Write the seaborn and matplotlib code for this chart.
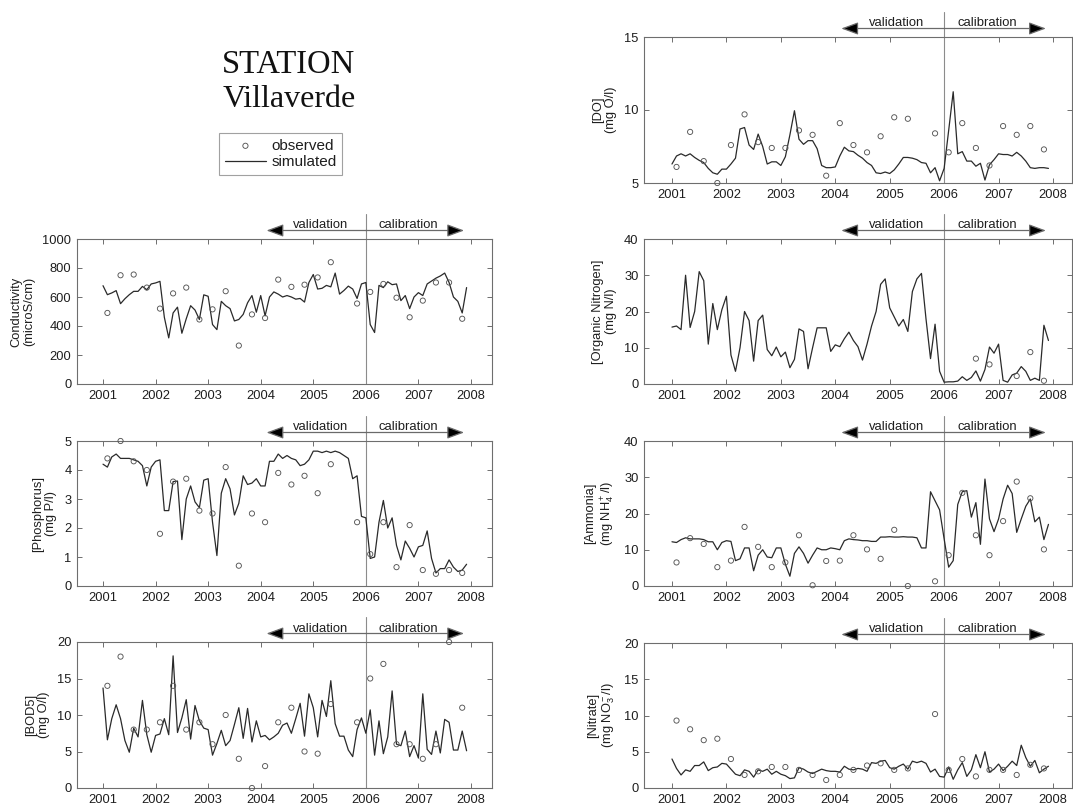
import numpy as np
import pandas as pd
import matplotlib
matplotlib.use("Agg")
import matplotlib.pyplot as plt
from matplotlib import transforms
import seaborn as sns

# ---------------- time bases ----------------
sim_dates = pd.date_range("2001-01-01", periods=84, freq="MS")   # monthly simulation
obs_dates = pd.date_range("2001-02-01", periods=28, freq="3MS")  # quarterly sampling
sim_t = np.asarray(sim_dates.year + (sim_dates.month - 1) / 12.0, dtype=float)
obs_t = np.asarray(obs_dates.year + (obs_dates.month - 1) / 12.0, dtype=float)

year_ticks = [2001, 2002, 2003, 2004, 2005, 2006, 2007, 2008]
split_year = 2006.0
valid_start = 2004.11
calib_end = 2007.87
nan = np.nan

# ---------------- data ----------------
cond_sim = [678, 616, 628, 644, 554, 588, 616, 639, 639, 673, 650, 690,
            697, 708, 460, 318, 490, 530, 350, 450, 540, 510, 445, 615,
            605, 410, 375, 570, 540, 520, 435, 445, 480, 560, 610, 495,
            610, 470, 600, 635, 620, 600, 610, 600, 585, 590, 565, 700,
            755, 655, 660, 680, 670, 765, 620, 645, 675, 655, 590, 690,
            700, 410, 355, 680, 665, 705, 685, 690, 575, 610, 520, 600,
            630, 610, 690, 710, 730, 745, 765, 700, 600, 570, 490, 665]
cond_obs = [490, 750, 755, 665, 520, 625, 665, 445, 515, 640, 265, 480,
            455, 720, 670, 685, 735, 840, nan, 555, 635, 690, 595, 460,
            575, 700, 700, 450]

phos_sim = [4.20, 4.10, 4.45, 4.55, 4.40, 4.40, 4.40, 4.35, 4.30, 4.15, 3.45, 4.10,
            4.30, 4.35, 2.60, 2.60, 3.60, 3.62, 1.60, 3.00, 3.45, 2.90, 2.70, 3.65,
            3.70, 2.20, 1.05, 3.20, 3.70, 3.35, 2.45, 2.85, 3.80, 3.50, 3.55, 3.70,
            3.45, 3.45, 4.30, 4.30, 4.55, 4.40, 4.50, 4.40, 4.35, 4.15, 4.20, 4.35,
            4.65, 4.65, 4.60, 4.65, 4.60, 4.65, 4.60, 4.50, 4.40, 3.70, 3.80, 2.40,
            2.35, 0.95, 1.00, 2.20, 2.95, 2.00, 2.35, 1.40, 0.90, 1.55, 1.30, 1.00,
            1.35, 1.40, 1.90, 0.95, 0.45, 0.60, 0.60, 0.90, 0.65, 0.50, 0.55, 0.75]
phos_obs = [4.4, 5.0, 4.3, 4.0, 1.8, 3.6, 3.7, 2.6, 2.5, 4.1, 0.7, 2.5,
            2.2, 3.9, 3.5, 3.8, 3.2, 4.2, nan, 2.2, 1.1, 2.2, 0.65, 2.1,
            0.55, 0.42, 0.55, 0.45]

bod_sim = [13.7, 6.6, 9.5, 11.4, 9.5, 6.5, 4.9, 8.2, 7.0, 12.0, 7.3, 4.9,
           7.2, 7.4, 9.5, 7.3, 18.1, 7.6, 9.6, 12.1, 6.7, 11.3, 9.2, 8.2,
           8.0, 4.5, 6.1, 7.9, 5.8, 6.5, 8.7, 11.0, 6.8, 10.9, 6.3, 9.2,
           7.0, 7.2, 6.6, 7.0, 7.5, 8.6, 8.9, 7.5, 9.5, 11.6, 7.1, 12.9,
           11.0, 7.0, 12.0, 9.8, 14.7, 8.8, 7.1, 7.1, 5.2, 4.3, 8.0, 9.6,
           7.5, 10.7, 4.5, 9.2, 4.7, 7.0, 13.3, 6.0, 5.8, 7.8, 4.3, 5.8,
           4.1, 12.9, 5.3, 4.6, 7.8, 4.8, 9.4, 9.0, 5.2, 5.2, 7.8, 5.1]
bod_obs = [14, 18, 8, 8, 9, 14, 8, 9, 6, 10, 4, 0,
           3, 9, 11, 5, 4.7, 11.5, nan, 9, 15, 17, 6, 6,
           4, 6, 20, 11]

do_sim = [6.30, 6.85, 7.00, 6.85, 7.00, 6.75, 6.55, 6.40, 6.00, 5.70, 5.60, 5.95,
          5.95, 6.30, 6.70, 8.70, 8.80, 7.60, 7.30, 8.35, 7.50, 6.30, 6.45, 6.45,
          6.20, 6.80, 8.30, 9.95, 8.00, 7.65, 7.90, 7.90, 7.35, 6.20, 6.05, 6.05,
          6.10, 6.85, 7.45, 7.20, 7.15, 6.90, 6.70, 6.40, 6.20, 5.70, 5.65, 5.75,
          5.65, 5.90, 6.30, 6.75, 6.75, 6.70, 6.60, 6.40, 6.35, 5.70, 6.05, 5.15,
          6.00, 8.60, 11.25, 7.00, 7.15, 6.50, 6.50, 6.15, 6.35, 5.20, 6.25, 6.60,
          7.00, 6.95, 6.95, 6.85, 7.10, 6.85, 6.50, 6.05, 6.00, 6.05, 6.05, 6.00]
do_obs = [6.1, 8.5, 6.5, 5.0, 7.6, 9.7, 7.8, 7.4, 7.4, 8.6, 8.3, 5.5,
          9.1, 7.6, 7.1, 8.2, 9.5, 9.4, nan, 8.4, 7.1, 9.1, 7.4, 6.2,
          8.9, 8.3, 8.9, 7.3]

orgn_sim = [15.7, 16.0, 15.0, 30.0, 15.6, 20.0, 31.0, 28.5, 11.0, 22.2, 15.0, 20.5,
            24.2, 8.0, 3.5, 10.0, 20.0, 17.5, 6.3, 17.5, 19.0, 9.5, 7.8, 10.2,
            7.5, 8.8, 4.5, 6.8, 15.2, 14.5, 4.2, 10.0, 15.5, 15.5, 15.5, 9.0,
            10.8, 10.3, 12.5, 14.3, 12.0, 10.3, 6.6, 11.0, 16.0, 20.0, 27.5, 29.0,
            21.0, 18.5, 16.0, 17.8, 14.5, 25.5, 29.0, 30.5, 18.0, 7.0, 16.5, 3.5,
            0.5, 0.6, 0.6, 0.8, 2.0, 1.0, 1.8, 3.6, 0.8, 4.0, 10.2, 8.5,
            11.0, 1.0, 0.5, 2.5, 3.0, 4.8, 3.5, 1.0, 1.6, 1.0, 16.2, 12.0]
orgn_obs = [nan, nan, nan, nan, nan, nan, nan, nan, nan, nan, nan, nan,
            nan, nan, nan, nan, nan, nan, nan, nan, nan, nan, 7.0, 5.4,
            nan, 2.2, 8.8, 0.9]

amm_sim = [12.2, 12.0, 12.8, 13.3, 13.0, 13.0, 13.0, 12.8, 12.2, 12.2, 10.0, 12.0,
           12.5, 12.3, 7.0, 7.5, 10.5, 10.5, 4.2, 8.5, 10.0, 8.0, 7.8, 10.5,
           10.5, 6.0, 2.7, 9.0, 10.8, 9.0, 6.3, 8.5, 10.5, 10.0, 10.0, 10.5,
           10.3, 10.0, 12.5, 13.0, 12.8, 12.7, 12.5, 12.5, 12.3, 12.3, 13.5, 13.5,
           13.6, 13.5, 13.5, 13.6, 13.5, 13.5, 13.3, 10.5, 10.5, 26.0, 23.5, 21.0,
           13.0, 5.2, 7.0, 22.5, 26.0, 26.3, 19.0, 23.0, 11.5, 29.5, 18.5, 15.0,
           18.5, 24.0, 27.8, 25.5, 14.8, 18.5, 22.0, 24.0, 17.7, 19.0, 12.8, 17.0]
amm_obs = [6.5, 13.2, 11.6, 5.2, 7.0, 16.3, 10.8, 5.2, 6.5, 14.0, 0.2, 6.9,
           7.0, 14.0, 10.1, 7.5, 15.5, 0.0, nan, 1.3, 8.5, 25.7, 14.0, 8.5,
           17.9, 28.8, 24.2, 10.1]

nit_sim = [4.0, 2.7, 1.8, 2.5, 2.3, 3.1, 3.1, 3.6, 2.4, 2.8, 2.9, 3.4,
           3.3, 2.6, 1.9, 1.7, 2.5, 2.3, 1.5, 2.5, 2.3, 2.6, 1.9, 2.3,
           1.9, 1.7, 1.3, 1.4, 2.8, 2.6, 2.2, 2.0, 2.3, 2.6, 2.4, 2.3,
           2.3, 2.2, 3.0, 2.6, 2.5, 2.7, 2.6, 2.3, 3.5, 3.4, 3.7, 3.8,
           2.8, 2.6, 3.0, 3.3, 2.6, 3.7, 3.5, 3.7, 3.4, 2.2, 2.6, 1.6,
           1.5, 2.9, 1.2, 2.5, 3.5, 1.6, 2.5, 4.6, 2.8, 5.0, 2.2, 2.6,
           3.3, 2.4, 3.0, 3.7, 3.1, 5.9, 4.2, 3.0, 3.8, 2.1, 2.6, 3.0]
nit_obs = [9.3, 8.1, 6.6, 6.8, 4.0, 1.8, 2.3, 2.9, 2.9, 2.5, 1.8, 1.1,
           1.8, 2.5, 3.1, 3.4, 2.5, 2.7, nan, 10.2, 2.5, 4.0, 1.6, 2.5,
           2.5, 1.8, 3.2, 2.7]

# ---------------- style ----------------
sns.set_style("ticks")
plt.rcParams["font.family"] = ["Liberation Sans", "DejaVu Sans"]
plt.rcParams["mathtext.fontset"] = "custom"
plt.rcParams["mathtext.rm"] = "Liberation Sans"
plt.rcParams["mathtext.it"] = "Liberation Sans:italic"
plt.rcParams["mathtext.bf"] = "Liberation Sans:bold"

W, H = 1073, 809
fig = plt.figure(figsize=(W / 100, H / 100), dpi=100)
fig.patch.set_facecolor("white")

def px_axes(left, top, right, bottom):
    return fig.add_axes([left / W, 1 - bottom / H, (right - left) / W, (bottom - top) / H])

LINE_C = "#2a2a2a"
MARK_C = "#555555"
SPINE_C = "#6e6e6e"
TEXT_C = "#1e1e1e"

panels = [
    # (rect px, xlim, sim, obs, ylim, yticks, ylabel)
    ((77, 239, 492, 384), (2000.505, 2008.40), cond_sim, cond_obs, (0, 1000),
     [0, 200, 400, 600, 800, 1000], "Conductivity\n(microS/cm)"),
    ((77, 441, 492, 586), (2000.505, 2008.40), phos_sim, phos_obs, (0, 5),
     [0, 1, 2, 3, 4, 5], "[Phosphorus]\n(mg P/l)"),
    ((77, 642, 492, 788), (2000.505, 2008.40), bod_sim, bod_obs, (0, 20),
     [0, 5, 10, 15, 20], "[BOD5]\n(mg O/l)"),
    ((644, 37, 1071.5, 183), (2000.486, 2008.34), do_sim, do_obs, (5, 15),
     [5, 10, 15], "[DO]\n(mg O/l)"),
    ((644, 239, 1071.5, 384), (2000.486, 2008.34), orgn_sim, orgn_obs, (0, 40),
     [0, 10, 20, 30, 40], "[Organic Nitrogen]\n(mg N/l)"),
    ((644, 441, 1071.5, 586), (2000.486, 2008.34), amm_sim, amm_obs, (0, 40),
     [0, 10, 20, 30, 40], "[Ammonia]\n(mg NH$_4^+$/l)"),
    ((644, 643, 1071.5, 788), (2000.486, 2008.34), nit_sim, nit_obs, (0, 20),
     [0, 5, 10, 15, 20], "[Nitrate]\n(mg NO$_3^-$/l)"),
]


def mark_periods(ax):
    trans = transforms.blended_transform_factory(ax.transData, ax.transAxes)
    h_px = ax.get_position().height * H

    def up(px):
        return 1 + px / h_px

    ax.plot([split_year, split_year], [0, up(25)], transform=trans, color="#8c8c8c",
            lw=0.8, clip_on=False, zorder=1)
    akw = dict(arrowstyle="-|>,head_length=0.65,head_width=0.24", mutation_scale=16,
               facecolor="black", edgecolor="#6a6a6a", lw=0.9, shrinkA=0, shrinkB=0)
    for tip in (valid_start, calib_end):
        ax.annotate("", xy=(tip, up(8.5)), xytext=(split_year, up(8.5)),
                    xycoords=trans, textcoords=trans, arrowprops=akw,
                    annotation_clip=False)
    ax.text(2005.13, up(10.5), "validation", transform=trans, ha="center",
            va="baseline", fontsize=9.4, color=TEXT_C)
    ax.text(2006.80, up(10.5), "calibration", transform=trans, ha="center",
            va="baseline", fontsize=9.4, color=TEXT_C)


axes = []
for rect, xlim, sim, obs, ylim, yticks, ylabel in panels:
    ax = px_axes(*rect)
    sns.lineplot(x=sim_t, y=np.asarray(sim, dtype=float), ax=ax, color=LINE_C,
                 linewidth=0.9, estimator=None, sort=False, zorder=2)
    sns.scatterplot(x=obs_t, y=np.asarray(obs, dtype=float), ax=ax, marker="o", s=14,
                    color=MARK_C, facecolor="none", edgecolor=MARK_C, linewidth=0.65,
                    clip_on=False, zorder=3)
    ax.set_xlim(*xlim)
    ax.set_ylim(*ylim)
    ax.set_xticks(year_ticks)
    ax.set_xticklabels([str(y) for y in year_ticks])
    ax.set_yticks(yticks)
    ax.set_xlabel("")
    ax.set_ylabel(ylabel, fontsize=9.3, color=TEXT_C, linespacing=1.15, labelpad=5)
    ax.tick_params(which="major", direction="in", length=3.5, width=0.7, color=SPINE_C,
                   top=True, right=True, labelsize=9.3, labelcolor=TEXT_C, pad=4)
    ax.minorticks_off()
    for sp in ax.spines.values():
        sp.set_color(SPINE_C)
        sp.set_linewidth(0.8)
        sp.set_visible(True)
    ax.set_facecolor("white")
    mark_periods(ax)
    axes.append(ax)

# ---------------- title & legend ----------------
fig.text(289 / W, 1 - 73 / H, "STATION", ha="center", va="baseline",
         family="Liberation Serif", fontsize=23.5, color="#111111")
fig.text(289 / W, 1 - 107 / H, "Villaverde", ha="center", va="baseline",
         family="Liberation Serif", fontsize=23, color="#111111")

ref_ax = axes[0]
handles = [ref_ax.collections[0], ref_ax.lines[0]]
leg = fig.legend(handles, ["observed", "simulated"], loc="upper left",
                 bbox_to_anchor=(219 / W, 1 - 133 / H), borderaxespad=0,
                 fontsize=11, frameon=True, fancybox=False, edgecolor="#8a8a8a",
                 handlelength=2.7, handletextpad=0.35, labelspacing=0.15,
                 borderpad=0.38, scatterpoints=1)
leg.get_frame().set_linewidth(0.8)
for t in leg.get_texts():
    t.set_color(TEXT_C)

fig.savefig("out.png", dpi=100, facecolor="white")
